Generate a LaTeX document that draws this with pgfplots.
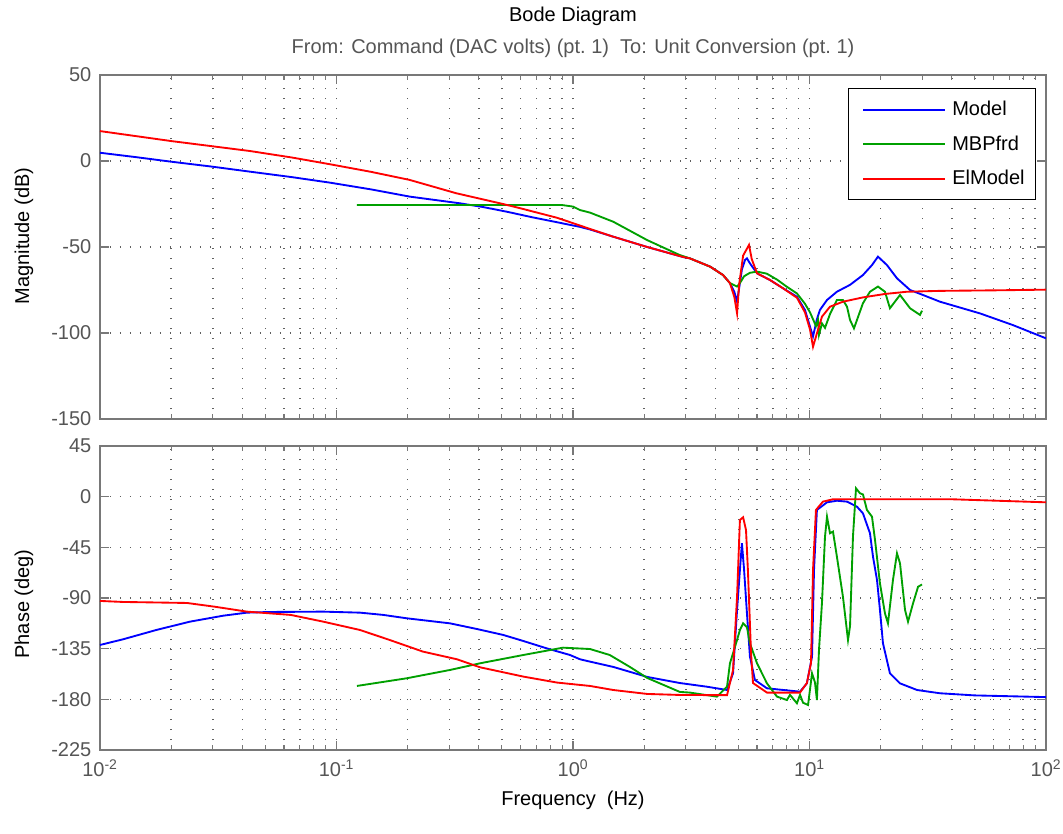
\documentclass[border=0pt]{standalone}
\usepackage{pgfplots}
\pgfplotsset{compat=1.18}
\usepackage{fontspec}
\setmainfont{Liberation Sans}
\definecolor{mblue}{RGB}{0,0,255}
\definecolor{mgreen}{RGB}{0,160,0}
\definecolor{mred}{RGB}{255,0,0}
\definecolor{axgray}{RGB}{120,120,120}
\definecolor{gridgray}{RGB}{95,95,95}
\definecolor{txtgray}{RGB}{85,85,85}
\newcommand{\fs}{\fontsize{15}{18}\selectfont}
\begin{document}
\begin{tikzpicture}
\path[use as bounding box] (0pt,0pt) rectangle (797.25pt,-624.75pt);
\node[font=\fs, black] at (429.75pt,-12.5pt) {Bode Diagram};
\node[font=\fs, txtgray] at (429.75pt,-36pt) {From: Command (DAC volts) (pt.~1)\ \ To: Unit Conversion (pt.~1)};
% ---------------- Magnitude ----------------
\begin{axis}[
  xmode=log, xmin=0.01, xmax=100,
  scale only axis, width=709.5pt, height=258pt,
  at={(75pt,-56.25pt)}, anchor=north west,
  axis line style={axgray, line width=1pt},
  every tick/.style={axgray, line width=0.8pt},
  major tick length=7pt, minor tick length=3.5pt,
  tick align=inside, tick pos=both,
  xmajorgrids, xminorgrids, ymajorgrids,
  major grid style={gridgray, dash pattern=on 1.1pt off 6.4pt, line width=1.1pt},
  minor grid style={gridgray, dash pattern=on 1.1pt off 6.4pt, line width=1.1pt},
  xtick={0.01,0.1,1,10,100},
  tick label style={txtgray, font=\fs},
  yticklabel style={xshift=-3pt},
  label style={font=\fs, black},
  ymin=-150, ymax=50, ytick={-150,-100,-50,0,50},
  yticklabels={-150,-100,-50,0,50}, xticklabels={},
  ylabel={Magnitude (dB)},
  ylabel style={at={(axis description cs:-0.0805,0.532)}, anchor=center},
  legend cell align=left,
  legend style={at={(1,1)}, anchor=north east, xshift=-7.5pt, yshift=-9.75pt,
    draw=black, line width=1.1pt, font=\fs, fill=white,
    row sep=9.5pt, inner xsep=6pt, inner ysep=7.5pt,
    /tikz/every odd column/.append style={column sep=3pt}},
  legend image code/.code={\path (-4.5pt,0pt); \draw[#1] (0pt,0pt) -- (61pt,0pt);},
]
\addplot[mblue, line width=1.4pt] coordinates {
(0.01,4.8) (0.0141,2.3) (0.02,-0.4) (0.0295,-3.2) (0.0431,-6.2) (0.065,-9.4)
(0.094,-12.6) (0.14,-16.5) (0.204,-20.7) (0.333,-24.6) (0.418,-26.8)
(0.526,-29.5) (0.677,-32.8) (0.856,-35.6) (1.07,-38.3) (1.18,-39.8)
(1.48,-44) (2.06,-50) (2.92,-55.8) (3.12,-56.6) (3.80,-61.4) (4.31,-66.3)
(4.61,-71) (4.81,-76) (4.94,-81.8) (5.04,-74) (5.18,-63) (5.34,-57.5) (5.44,-56.6)
(5.6,-59.5) (6.0,-65.3) (6.81,-69.2) (7.73,-74) (8.85,-78.9) (9.57,-86.6)
(10.05,-96.3) (10.35,-102) (10.75,-92) (11.07,-86.6) (11.86,-80.8) (13.06,-76)
(14.84,-72) (16.83,-66.3) (18.38,-60.5) (19.48,-55.6) (21.26,-60.5) (23.44,-68.2)
(26.62,-75) (30.2,-77.9) (35.63,-81.8) (52.6,-88.6) (72.5,-95.4) (100,-103.1)
};
\addlegendentry{Model}
\addplot[mgreen, line width=1.4pt] coordinates {
(0.122,-25.6) (0.5,-25.6) (0.9,-25.6) (1.0,-26.5) (1.07,-28.5) (1.18,-30)
(1.48,-35.3) (2.06,-46) (2.83,-54.7) (3.12,-56.6) (3.8,-61.4) (4.31,-66.3)
(4.61,-71) (4.94,-73) (5.08,-71) (5.29,-67) (5.6,-65) (6.0,-64.3) (6.6,-65.5)
(7.3,-69) (8.0,-73) (8.85,-77) (9.57,-83) (10.05,-88) (10.35,-92) (10.65,-96)
(10.86,-92.4) (10.97,-101) (11.29,-94.4) (11.63,-97) (12.21,-89) (13.06,-80.8)
(13.85,-80.8) (14.41,-84.7) (14.84,-92.4) (15.42,-97.3) (15.88,-92.4)
(16.83,-82.7) (18.02,-76) (19.48,-73) (20.85,-76) (21.89,-85.6) (24.14,-77.9)
(26.62,-85.6) (29.33,-89.5) (29.91,-87)
};
\addlegendentry{MBPfrd}
\addplot[mred, line width=1.4pt] coordinates {
(0.01,17.4) (0.02,11.6) (0.0431,5.8) (0.065,2) (0.094,-1.9) (0.14,-6.3)
(0.204,-11) (0.32,-18.7) (0.506,-25) (0.6,-27.5) (0.856,-33) (1.07,-37.5)
(1.18,-39.5) (1.48,-44) (2.06,-50) (2.92,-55.8) (3.12,-56.6) (3.80,-61.4)
(4.31,-66.3) (4.61,-71) (4.81,-79) (4.94,-88.6) (5.04,-72) (5.24,-55)
(5.55,-48.8) (5.7,-57) (6.0,-65.3) (6.81,-69.2) (7.73,-74) (8.85,-79.5)
(9.57,-88) (10.05,-98) (10.35,-108) (10.75,-100.2) (11.29,-90.5) (12.21,-84.7)
(13.85,-81.8) (16.83,-79.3) (20.85,-77.3) (25.84,-76) (35.63,-75.5) (60,-75.2)
(100,-74.8)
};
\addlegendentry{ElModel}
\end{axis}
% ---------------- Phase ----------------
\begin{axis}[
  xmode=log, xmin=0.01, xmax=100,
  scale only axis, width=709.5pt, height=228pt,
  at={(75pt,-334.5pt)}, anchor=north west,
  axis line style={axgray, line width=1pt},
  every tick/.style={axgray, line width=0.8pt},
  major tick length=7pt, minor tick length=3.5pt,
  tick align=inside, tick pos=both,
  xmajorgrids, xminorgrids, ymajorgrids,
  major grid style={gridgray, dash pattern=on 1.1pt off 6.4pt, line width=1.1pt},
  minor grid style={gridgray, dash pattern=on 1.1pt off 6.4pt, line width=1.1pt},
  xtick={0.01,0.1,1,10,100},
  tick label style={txtgray, font=\fs},
  yticklabel style={xshift=-3pt},
  xticklabel style={yshift=-4pt},
  label style={font=\fs, black},
  ymin=-225, ymax=45, ytick={-225,-180,-135,-90,-45,0,45},
  yticklabels={-225,-180,-135,-90,-45,0,45},
  xticklabels={10\textsuperscript{-2},10\textsuperscript{-1},10\textsuperscript{0},10\textsuperscript{1},10\textsuperscript{2}},
  ylabel={Phase (deg)},
  ylabel style={at={(axis description cs:-0.0805,0.48)}, anchor=center},
  xlabel={Frequency\ \ (Hz)},
  xlabel style={yshift=-4pt},
]
\addplot[mblue, line width=1.4pt] coordinates {
(0.01,-131.7) (0.0125,-126.7) (0.0173,-118.4) (0.024,-111) (0.0332,-105.7)
(0.0418,-103) (0.0524,-102.4) (0.0879,-102.1) (0.1257,-103) (0.1576,-105)
(0.198,-108) (0.302,-112.5) (0.392,-117.5) (0.507,-122.8) (0.617,-128.2)
(0.774,-134.7) (0.971,-140.6) (1.07,-144.4) (1.18,-146.5) (1.48,-151.2) (2.06,-160.1)
(2.83,-165.5) (3.69,-168.8) (4.48,-171.7) (4.75,-156.9) (4.94,-100.6)
(5.08,-65) (5.18,-41.4) (5.29,-65) (5.44,-103.6) (5.6,-142) (5.88,-162.8)
(6.61,-170.2) (9.12,-173.2) (9.75,-165.8) (10.25,-142) (10.45,-65) (10.75,-11.8)
(11.86,-5) (13.06,-3.6) (14.41,-4.4) (15.88,-8.9) (16.83,-14.8) (18.02,-32.5)
(18.56,-53.3) (19.30,-74) (19.86,-100.6) (20.45,-130.2) (21.89,-156.9)
(24.14,-165.8) (28.5,-171.7) (35.63,-174.6) (50,-176.5) (100,-178)
};
\addplot[mgreen, line width=1.4pt] coordinates {
(0.122,-168.1) (0.198,-161.3) (0.302,-153.9) (0.404,-148) (0.617,-140.6)
(0.907,-134.1) (1.18,-135.3) (1.43,-140.6) (1.74,-151.2) (2.06,-161)
(2.83,-173.4) (3.12,-174) (4.06,-177.6) (4.48,-168.7) (4.61,-148) (4.94,-127.3)
(5.08,-118.4) (5.24,-112.5) (5.44,-116) (5.60,-130.2) (6.0,-148) (6.61,-165.8)
(7.29,-177.6) (8.03,-180.6) (8.27,-176) (8.85,-183.5) (9.12,-176) (9.39,-183)
(9.86,-185) (10.25,-156.9) (10.55,-165) (10.75,-180.6) (10.97,-136) (11.29,-94.7)
(11.63,-35.5) (11.86,-17.8) (12.21,-32.5) (12.57,-31) (13.06,-53.3) (13.85,-88.8)
(14.55,-127.3) (14.84,-115) (15.27,-35.5) (15.73,7.4) (16.35,3) (16.83,2)
(17.50,-11.8) (18.38,-17.8) (18.93,-38.5) (19.86,-77) (20.85,-103.6)
(21.47,-112.5) (22.54,-74) (23.44,-50.3) (24.14,-59.2) (25.35,-100.6)
(26.10,-111) (27.41,-94.7) (28.78,-80) (29.91,-78)
};
\addplot[mred, line width=1.4pt] coordinates {
(0.01,-92.6) (0.0125,-93.5) (0.0233,-94.4) (0.0305,-97.7) (0.0418,-102.1)
(0.064,-105) (0.0879,-111) (0.1257,-118.4) (0.168,-127.3) (0.232,-137.6)
(0.323,-144.4) (0.404,-151.5) (0.617,-159.8) (0.856,-165.1) (1.18,-168.1)
(1.48,-171.7) (2.06,-175.2) (2.83,-176.1)
(4.48,-176.3) (4.75,-154) (4.94,-88.8) (5.08,-20.7) (5.24,-18.3) (5.39,-29.6)
(5.49,-65) (5.66,-139) (5.77,-165.5) (6.61,-174) (9.12,-174) (9.75,-165.5)
(10.15,-147.7) (10.35,-65) (10.65,-11.8) (11.40,-4.4) (12.57,-2.3) (40,-2.3)
(60,-3.5) (100,-5)
};
\end{axis}
\end{tikzpicture}
\end{document}
